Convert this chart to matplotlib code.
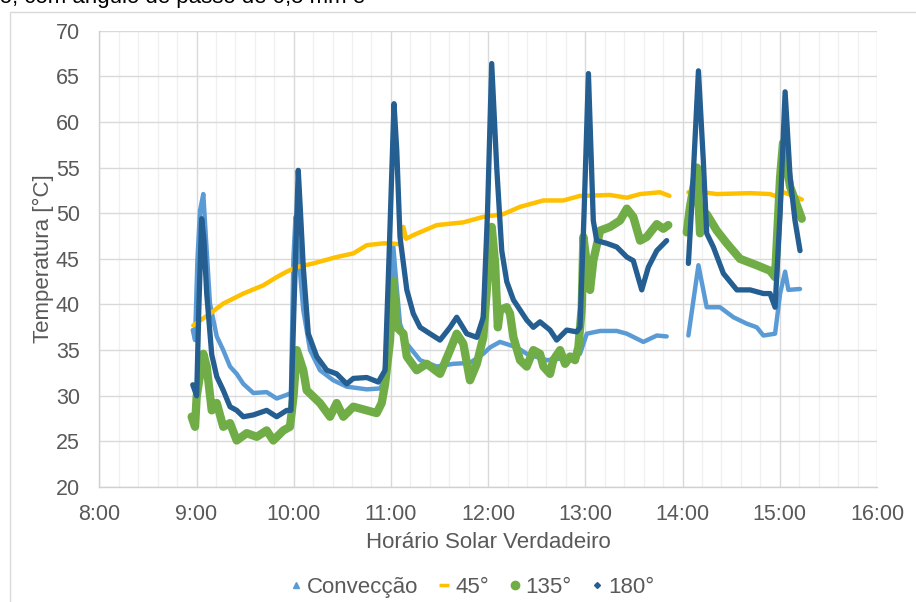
import numpy as np
import matplotlib.pyplot as plt
from matplotlib.lines import Line2D
from matplotlib.ticker import MultipleLocator, FuncFormatter

plt.rcParams['font.family'] = ['Liberation Sans', 'DejaVu Sans']

nan = np.nan

# time in minutes since midnight (solar time), nan = gap in the record
conv_t = [537.7, 539.1, 540.6, 542.2, 544.2, 545.9, 548.3, 552.5, 556.5, 560.7, 564.8,
          568.9, 575.1, 583.3, 589.5, 595.7, 598.3, 599.8, 601.1, 602.7, 605.9, 610.1,
          616.2, 624.4, 632.7, 645.1, 653.3, 657.0, 659.4, 661.5, 663.5, 665.6, 669.8,
          678.0, 688.3, 698.5, 708.8, 717.0, 721.2, 727.3, 737.7, 743.8, 756.2, 766.4,
          776.7, 780.9, 789.1, 799.4, 805.6, 815.8, 824.1, 830.2, 837.0,
          843.6, 849.8, 854.9, 863.1, 871.4, 879.6, 885.8, 889.9, 897.1, 900.2, 903.3,
          905.3, 912.5]
conv_v = [37.2, 36.1, 45.0, 50.3, 52.1, 47.0, 40.1, 36.5, 35.0, 33.2, 32.4,
          31.3, 30.3, 30.4, 29.7, 30.1, 30.3, 45.0, 49.6, 46.0, 39.4, 35.0,
          32.8, 31.7, 31.0, 30.7, 30.8, 32.0, 40.0, 46.3, 42.0, 37.9, 35.7,
          33.9, 33.2, 33.5, 33.6, 34.6, 35.3, 35.9, 35.3, 34.6, 33.9, 34.1,
          34.6, 36.8, 37.1, 37.1, 36.8, 35.9, 36.6, 36.5, nan,
          36.6, 44.3, 39.7, 39.7, 38.6, 37.9, 37.5, 36.6, 36.8, 41.2, 43.6,
          41.6, 41.7]

a45_t = [538.0, 548.3, 556.5, 568.9, 581.2, 589.5, 595.7, 601.9, 612.1, 626.5, 636.8,
         645.1, 655.3, 659.4, 665.6, 667.7, 669.3, 673.8, 688.3, 704.7, 717.0, 729.4,
         739.7, 754.1, 766.4, 776.7, 795.2, 805.6, 813.8, 826.1, 831.9, 837.0,
         843.6, 852.7, 861.1, 881.7, 894.0, 897.1, 902.2, 908.4, 913.6]
a45_v = [37.7, 39.0, 40.1, 41.2, 42.1, 43.0, 43.6, 44.1, 44.5, 45.2, 45.6,
         46.5, 46.7, 46.7, 46.6, 48.5, 47.2, 47.6, 48.7, 49.0, 49.6, 49.9,
         50.7, 51.4, 51.4, 51.9, 52.0, 51.7, 52.1, 52.3, 51.9, nan,
         52.3, 52.3, 52.1, 52.2, 52.1, 51.9, 52.3, 51.9, 51.5]

a135_t = [537.0, 539.1, 540.1, 544.2, 546.3, 549.4, 552.5, 556.5, 560.7, 564.8, 571.0,
          577.2, 583.3, 587.4, 593.6, 597.7, 599.9, 601.9, 605.9, 608.0, 616.2, 622.4,
          626.5, 630.6, 636.8, 645.1, 651.2, 654.3, 656.4, 659.4, 661.5, 663.6, 667.7,
          669.8, 675.9, 682.1, 690.3, 696.5, 700.6, 704.7, 708.8, 713.0, 717.0, 719.3,
          722.2, 724.3, 726.0, 727.3, 731.5, 733.5, 735.6, 739.7, 743.8, 747.9, 752.0,
          754.1, 758.2, 760.2, 764.4, 767.5, 770.6, 773.6, 775.7, 777.8, 778.8, 782.9,
          784.9, 789.1, 795.2, 801.4, 805.6, 809.6, 813.8, 817.9, 824.1, 828.1, 831.2, 837.0,
          842.6, 844.6, 848.9, 850.8, 854.9, 861.1, 867.3, 875.5, 885.8, 894.0, 897.1,
          900.2, 902.0, 906.4, 913.6]
a135_v = [27.7, 26.6, 29.9, 34.6, 33.2, 28.4, 29.2, 26.6, 27.0, 25.1, 25.9,
          25.5, 26.2, 25.1, 26.2, 26.6, 30.0, 35.0, 32.8, 30.6, 29.2, 27.7,
          29.2, 27.7, 28.8, 28.4, 28.1, 29.2, 31.3, 36.0, 42.6, 37.5, 36.8,
          34.3, 32.8, 33.5, 32.4, 35.0, 36.8, 35.7, 31.7, 33.5, 36.4, 42.0,
          48.5, 44.5, 37.5, 39.4, 39.7, 39.0, 36.4, 33.9, 33.2, 35.0, 34.6,
          33.2, 32.4, 33.9, 35.0, 33.5, 34.3, 33.9, 35.3, 39.7, 47.4, 41.6,
          44.8, 48.1, 48.5, 49.2, 50.5, 49.6, 47.0, 47.4, 48.8, 48.3, 48.7, nan,
          47.9, 50.7, 55.0, 47.8, 49.9, 48.1, 46.7, 45.0, 44.3, 43.7, 43.0,
          53.9, 57.7, 52.9, 49.4]

a180_t = [537.7, 540.1, 541.5, 543.2, 544.6, 546.3, 549.4, 552.5, 556.5, 560.7, 564.8,
          568.9, 575.1, 583.3, 589.5, 595.7, 598.3, 600.2, 602.8, 604.2, 605.9, 609.0,
          614.2, 620.4, 626.5, 632.7, 636.8, 645.1, 652.2, 656.4, 658.8, 661.9, 663.6,
          665.6, 669.8, 673.8, 678.0, 684.1, 690.3, 696.5, 700.6, 706.8, 713.0, 717.0,
          719.6, 722.2, 725.3, 728.4, 731.5, 735.6, 743.8, 747.9, 752.0, 758.2, 762.3,
          768.5, 774.7, 776.7, 779.2, 781.9, 784.9, 787.0, 793.2, 799.4, 805.6, 809.6,
          814.8, 818.9, 824.1, 830.2, 837.0,
          843.6, 845.7, 849.8, 852.8, 854.9, 859.0, 865.2, 873.5, 881.7, 889.9, 894.0,
          897.1, 900.2, 903.3, 906.4, 909.4, 912.5]
a180_v = [31.2, 30.0, 40.0, 49.4, 47.0, 41.2, 34.5, 32.1, 30.6, 28.8, 28.4,
          27.7, 27.9, 28.4, 27.7, 28.4, 28.4, 40.0, 54.7, 50.0, 44.1, 36.8,
          34.3, 32.8, 32.4, 31.3, 31.9, 32.0, 31.5, 32.8, 45.0, 62.0, 56.9,
          47.4, 41.6, 39.0, 37.5, 36.8, 36.1, 37.5, 38.6, 36.8, 36.4, 38.6,
          50.0, 66.4, 55.0, 45.9, 42.5, 40.5, 38.3, 37.5, 38.1, 37.2, 36.1,
          37.2, 37.0, 37.5, 50.0, 65.3, 49.2, 47.0, 46.7, 46.3, 45.2, 44.8,
          41.6, 44.1, 45.9, 47.0, nan,
          44.5, 51.0, 65.6, 55.8, 47.8, 46.3, 43.4, 41.6, 41.6, 41.2, 41.2,
          39.7, 50.0, 63.3, 53.9, 49.2, 45.9]

series_names = ['Convecção', '45°', '135°', '180°']
colors = ['#5B9BD5', '#FFC000', '#70AD47', '#255E91']
txt_color = '#595959'

fig = plt.figure(figsize=(9.16, 6.02), dpi=100)
ax = fig.add_axes([0.1084, 0.191, 0.849, 0.758])

ax.plot(conv_t, conv_v, color=colors[0], lw=3.2, solid_capstyle='round', solid_joinstyle='round', zorder=3)
ax.plot(a45_t, a45_v, color=colors[1], lw=3.2, solid_capstyle='round', solid_joinstyle='round', zorder=4)
ax.plot(a135_t, a135_v, color=colors[2], lw=6.0, solid_capstyle='round', solid_joinstyle='round', zorder=5)
ax.plot(a180_t, a180_v, color=colors[3], lw=3.8, solid_capstyle='round', solid_joinstyle='round', zorder=6)

ax.set_xlim(480, 960)
ax.set_ylim(20, 70)
ax.xaxis.set_major_locator(MultipleLocator(60))
ax.xaxis.set_minor_locator(MultipleLocator(12))
ax.yaxis.set_major_locator(MultipleLocator(5))
ax.xaxis.set_major_formatter(FuncFormatter(lambda v, p: '%d:%02d' % (v // 60, v % 60)))

ax.grid(True, which='major', color='#D9D9D9', lw=1.0, zorder=0)
ax.grid(True, which='minor', axis='x', color='#F0F0F0', lw=1.0, zorder=0)
ax.set_axisbelow(True)

for s in ['top', 'right']:
    ax.spines[s].set_visible(False)
for s in ['left', 'bottom']:
    ax.spines[s].set_color('#D0D0D0')
    ax.spines[s].set_linewidth(1.0)

ax.tick_params(which='both', length=0, labelsize=15.5, labelcolor=txt_color)
ax.tick_params(axis='y', pad=14)
ax.tick_params(axis='x', pad=12)

ax.set_xlabel('Horário Solar Verdadeiro', fontsize=16, color=txt_color, labelpad=5)
ax.set_ylabel('Temperatura [°C]', fontsize=16, color=txt_color, labelpad=1)

handles = [
    Line2D([], [], ls='none', marker='^', ms=4, color=colors[0]),
    Line2D([], [], ls='none', marker='_', ms=7, mew=2.5, color=colors[1]),
    Line2D([], [], ls='none', marker='o', ms=6, color=colors[2]),
    Line2D([], [], ls='none', marker='D', ms=3, color=colors[3]),
]
leg = fig.legend(handles, series_names, loc='center', bbox_to_anchor=(0.516, 0.024), ncol=4,
                 frameon=False, fontsize=16, handlelength=0.5, handletextpad=0.25,
                 columnspacing=0.9, borderpad=0, borderaxespad=0)
for t in leg.get_texts():
    t.set_color(txt_color)

# outer chart frame (only top and left edges fall inside the crop)
fig.add_artist(Line2D([9.5 / 916, 9.5 / 916, 1.0], [0.0, 1 - 11.5 / 602, 1 - 11.5 / 602],
                      transform=fig.transFigure, color='#D9D9D9', lw=1.0))

# caption line of the page above, cut off by the crop
fig.text(-0.026, 1 - 3.5 / 602, 'ção, com ângulo de passo de 0,5 mm e', fontsize=16,
         color='black', va='baseline', ha='left')

fig.savefig('out.png', dpi=100)
